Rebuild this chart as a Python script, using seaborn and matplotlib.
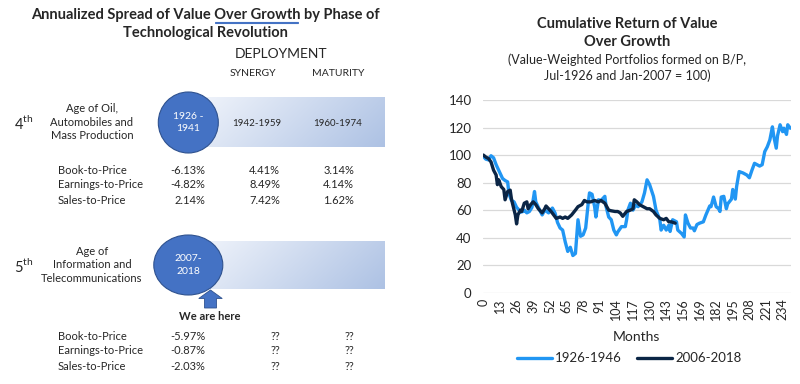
import numpy as np
import pandas as pd
import matplotlib
matplotlib.use('Agg')
import matplotlib.pyplot as plt
from matplotlib.patches import Ellipse, FancyArrow
import seaborn as sns

# ---------------- data ----------------
rows = ['Book-to-Price', 'Earnings-to-Price', 'Sales-to-Price']
phase4 = [['-6.13%', '4.41%', '3.14%'],
          ['-4.82%', '8.49%', '4.14%'],
          ['2.14%', '7.42%', '1.62%']]
phase5 = [['-5.97%', '??', '??'],
          ['-0.87%', '??', '??'],
          ['-2.03%', '??', '??']]

blue_months = [0, 2, 4, 6, 8, 10, 13, 15, 17, 19, 20, 22, 24, 26, 27, 29, 31, 32, 34, 36, 38,
               40, 41, 43, 46, 48, 51, 54, 56, 58, 60, 62, 64, 66, 68, 70, 72, 74, 76, 78,
               80, 82, 83, 85, 87, 88, 90, 92, 95, 96, 98, 100, 102, 104, 105, 108, 111, 112,
               113, 115, 117, 119, 121, 124, 126, 128, 130, 133, 135, 138, 139, 141, 143, 145,
               146, 148, 151, 152, 155, 157, 158, 160, 162, 164, 165, 167, 169, 172, 174, 177,
               178, 180, 182, 184, 185, 186, 188, 190, 191, 194, 195, 197, 198, 200, 203, 206,
               208, 210, 212, 214, 216, 218, 220, 222, 224, 226, 227, 229, 230, 232, 234, 235,
               237, 238, 240]
blue_values = [99, 97, 96.5, 99.5, 98, 93, 87, 83, 81.5, 80.5, 72, 67, 66, 62, 61, 58.5, 59,
               60, 58, 59, 62, 73.5, 66, 62, 56.5, 60, 58, 61.5, 58, 51, 47, 45.5, 37, 30, 33,
               27, 28.5, 53, 41, 42, 47, 65, 72.5, 71.5, 62.5, 55, 67.5, 67, 70, 62.5, 55, 53,
               45.5, 42, 44, 48, 48, 53, 60, 65, 60, 63.5, 62.5, 66, 72.5, 82, 78.5, 70, 60, 53,
               45.5, 49, 45.5, 49, 44.5, 53, 51.5, 45.5, 43, 40.5, 56.5, 50.5, 47, 47, 45, 49.5,
               50.5, 51.5, 56.5, 63, 62.5, 69.5, 62.5, 61, 59, 69.5, 70, 61, 64.5, 68, 75, 68,
               77, 88, 87, 85.5, 83.5, 89, 94, 93, 92, 93, 102.5, 106, 111, 120.5, 114, 105,
               114, 122, 117, 119.5, 115, 122, 119.5]

navy_months = [0, 2, 4, 6, 8, 10, 11, 12, 14, 16, 17, 19, 21, 22, 23, 25, 26, 27, 29, 30, 32,
               34, 35, 37, 39, 41, 43, 46, 48, 49, 51, 53, 55, 57, 60, 62, 64, 66, 69, 72, 74,
               77, 79, 81, 84, 87, 90, 92, 95, 98, 100, 103, 105, 107, 109, 112, 115, 117, 118,
               120, 122, 125, 128, 130, 133, 135, 138, 141, 143, 145, 147, 150]
navy_values = [100, 98.5, 97.5, 95, 89, 85.5, 78.5, 82, 77, 75, 67.5, 73.5, 74.5, 68, 64,
               56.5, 50, 56.5, 60, 59, 65, 66, 61, 64, 66, 64, 61, 58, 61, 63, 61, 59, 56.5,
               54, 55, 54, 55, 54, 56.5, 60, 62.5, 64, 67, 66, 66, 67, 66, 67, 65, 60, 59.5,
               59, 59, 58, 55.5, 59, 60, 61, 67.5, 66, 64, 62.5, 61, 61, 59, 56.5, 54, 53, 54,
               51.5, 51.5, 50.5]

df = pd.concat([
    pd.DataFrame({'Months': blue_months, 'Value': blue_values, 'Series': '1926-1946'}),
    pd.DataFrame({'Months': navy_months, 'Value': navy_values, 'Series': '2006-2018'}),
])

# ---------------- figure ----------------
sns.set_theme(style='white')
plt.rcParams['font.family'] = ['Lato', 'DejaVu Sans']

fig = plt.figure(figsize=(8, 3.84), dpi=100)

# left panel drawn in pixel coordinates
axl = fig.add_axes([0, 0, 0.5, 1])
axl.set_xlim(0, 400)
axl.set_ylim(384, 0)
axl.axis('off')

axl.text(205, 15, 'Annualized Spread of Value Over Growth by Phase of', ha='center', va='center',
         fontsize=10.5, fontweight='bold')
axl.text(205, 33, 'Technological Revolution', ha='center', va='center', fontsize=10.5, fontweight='bold')
axl.plot([215, 298], [21.8, 21.8], color='#4472C4', lw=0.8)
axl.plot([215, 298], [23.3, 23.3], color='#4472C4', lw=0.8)

axl.text(281, 54, 'DEPLOYMENT', ha='center', va='center', fontsize=10)
axl.text(253, 74, 'SYNERGY', ha='center', va='center', fontsize=7.5)
axl.text(338, 74, 'MATURITY', ha='center', va='center', fontsize=7.5)

# gradient bars
gx = np.linspace(0, 1, 200)
gy = np.linspace(0, 1, 50)
GX, GY = np.meshgrid(gx, gy)
t = np.clip(0.08 + 0.62 * GX + 0.18 * GY, 0, 1)
light = np.array([0.96, 0.97, 0.99])
dark = np.array([0.64, 0.73, 0.88])
grad = light[None, None, :] * (1 - t[..., None]) + dark[None, None, :] * t[..., None]

for top, bot in [(98, 147.3), (241.7, 289.3)]:
    axl.imshow(grad, extent=(205, 385, bot, top), aspect='auto', zorder=1)
axl.set_xlim(0, 400)
axl.set_ylim(384, 0)

axl.add_patch(Ellipse((188.3, 122.5), 60, 61, facecolor='#4472C4', edgecolor='#2F528F', lw=0.8, zorder=2))
axl.add_patch(Ellipse((188.3, 265), 69, 60, facecolor='#4472C4', edgecolor='#2F528F', lw=0.8, zorder=2))
axl.text(188.3, 122.5, '1926 -\n1941', ha='center', va='center', color='white', fontsize=7.5,
         linespacing=1.5, zorder=3)
axl.text(188.3, 265, '2007-\n2018', ha='center', va='center', color='white', fontsize=7.5,
         linespacing=1.5, zorder=3)
axl.text(257, 123, '1942-1959', ha='center', va='center', fontsize=7, zorder=3)
axl.text(338, 123, '1960-1974', ha='center', va='center', fontsize=7, zorder=3)

axl.add_patch(FancyArrow(210.5, 308, 0, -18, width=12, head_width=23.5, head_length=8.5,
                         length_includes_head=True, facecolor='#4472C4', edgecolor='#2F528F',
                         lw=0.6, zorder=3))
axl.text(210, 316, 'We are here', ha='center', va='center', fontsize=8, fontweight='bold')

axl.text(14, 123, '4$^{\\mathregular{th}}$', ha='left', va='center', fontsize=10.5)
axl.text(14, 266, '5$^{\\mathregular{th}}$', ha='left', va='center', fontsize=10.5)
axl.text(92, 122, 'Age of Oil,\nAutomobiles and\nMass Production', ha='center', va='center',
         fontsize=8, linespacing=1.3)
axl.text(92, 265, 'Age of\nInformation and\nTelecommunications', ha='center', va='center',
         fontsize=8, linespacing=1.3)

col_x = [205.5, 280, 354]
for block, ys in [(phase4, [170.7, 185, 200]), (phase5, [336.7, 351, 366])]:
    for name, vals, y in zip(rows, block, ys):
        axl.text(58, y, name, ha='left', va='center', fontsize=8)
        for j, (v, x) in enumerate(zip(vals, col_x)):
            if v == '??':
                axl.text(x - 5, y, v, ha='center', va='center', fontsize=8)
            else:
                axl.text(x, y, v, ha='right', va='center', fontsize=8)

# right panel: line chart
ax = fig.add_axes([482.7 / 800, 1 - 292.7 / 384, 308 / 800, 192.7 / 384])
sns.lineplot(data=df, x='Months', y='Value', hue='Series', sort=False,
             palette={'1926-1946': '#2196F3', '2006-2018': '#0B2545'},
             linewidth=2.4, ax=ax, legend=False)
ax.set_xlim(-0.5, 240.3)
ax.set_ylim(0, 140)
ax.set_yticks(range(0, 141, 20))
ax.set_xticks(range(0, 235, 13))
ax.set_xticklabels([str(m) for m in range(0, 235, 13)], rotation=90, fontsize=9)
ax.tick_params(axis='y', labelsize=9.5, length=0, pad=8)
ax.tick_params(axis='x', length=0, pad=4)
ax.grid(axis='y', color='#D9D9D9', lw=0.9)
ax.set_axisbelow(True)
for s in ax.spines.values():
    s.set_visible(False)
ax.set_xlabel('Months', fontsize=10, labelpad=8)
ax.set_ylabel('')

fig.text(627.5 / 800, 1 - 24 / 384, 'Cumulative Return of Value', ha='center', va='center',
         fontsize=10.5, fontweight='bold')
fig.text(627.5 / 800, 1 - 42.5 / 384, 'Over Growth', ha='center', va='center',
         fontsize=10.5, fontweight='bold')
fig.text(627.5 / 800, 1 - 60 / 384, '(Value-Weighted Portfolios formed on B/P,', ha='center',
         va='center', fontsize=9)
fig.text(627.5 / 800, 1 - 76 / 384, 'Jul-1926 and Jan-2007 = 100)', ha='center', va='center',
         fontsize=9)

# legend drawn manually in figure pixels
fig.lines.append(plt.Line2D([517 / 800, 551.5 / 800], [1 - 358 / 384] * 2, color='#2196F3', lw=2.4,
                            transform=fig.transFigure))
fig.text(555 / 800, 1 - 358 / 384, '1926-1946', ha='left', va='center', fontsize=9.5)
fig.lines.append(plt.Line2D([637 / 800, 671.5 / 800], [1 - 358 / 384] * 2, color='#0B2545', lw=2.4,
                            transform=fig.transFigure))
fig.text(675 / 800, 1 - 358 / 384, '2006-2018', ha='left', va='center', fontsize=9.5)

fig.savefig('out.png', dpi=100)
